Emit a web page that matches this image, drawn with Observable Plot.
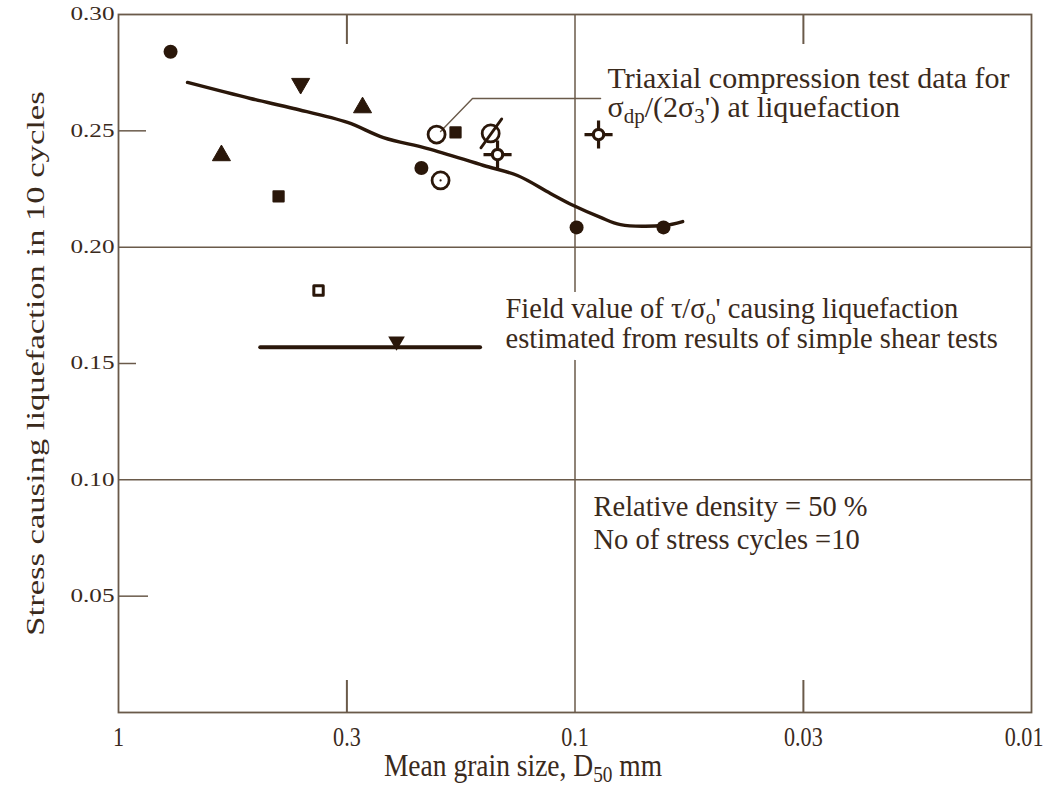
<!DOCTYPE html>
<html>
<head>
<meta charset="utf-8">
<script src="https://cdn.jsdelivr.net/npm/d3@7"></script>
<script src="https://cdn.jsdelivr.net/npm/@observablehq/plot@0.6"></script>
<style>
  html, body { margin: 0; padding: 0; background: #fff; }
</style>
</head>
<body>
<div id="chart"></div>
<script>
// Cyclic stress ratio causing liquefaction in 10 cycles vs mean grain size D50 (mm)
// Each test series: [D50 in mm, stress ratio]
const solidCircles   = [[0.769, 0.284], [0.217, 0.234], [0.0992, 0.2085], [0.064, 0.2085]];
const upTriangles    = [[0.595, 0.2394], [0.292, 0.260]];
const downTriangles  = [[0.399, 0.2703]];
const solidSquares   = [[0.446, 0.2218], [0.1827, 0.2493]];
const openSquares    = [[0.3646, 0.1814]];
const openCircles    = [[0.201, 0.2484]];
const dottedCircles  = [[0.197, 0.2287]];
const slashedCircles = [[0.153, 0.2489]];
const crossCircles   = [[0.1478, 0.2398], [0.0888, 0.2484]];

// Average trend through the triaxial data
const trendD50   = [0.706, 0.514, 0.4136, 0.315, 0.2628, 0.2103, 0.1586, 0.1337, 0.1132, 0.1008, 0.0879, 0.0795, 0.064, 0.0581];
const trendRatio = [0.2708, 0.2639, 0.2596, 0.2536, 0.2471, 0.2424, 0.2351, 0.2308, 0.2231, 0.2179, 0.2128, 0.2097, 0.2093, 0.2110];

// Field value from simple shear tests
const fieldD50Range = [0.488, 0.161];
const fieldRatio = 0.157;
const fieldMarkerD50 = 0.246;

// Axes
const xTickValues = [1, 0.316, 0.1, 0.0316, 0.01];
const xTickLabels = ["1", "0.3", "0.1", "0.03", "0.01"];
const yTickValues = [0.05, 0.10, 0.15, 0.20, 0.25, 0.30];
const yGrid = [0.10, 0.20];
const xGrid = [0.1];
const xMinorTicks = [0.316, 0.0316];
const yMinorTicks = [0.05, 0.15, 0.25];
const xTitle = "Mean grain size, D_{50} mm";
const yTitle = "Stress causing liquefaction in 10 cycles";

// Annotation text
const triaxialNote = ["Triaxial compression test data for", "σ_{dp}/(2σ_{3}') at liquefaction"];
const fieldNote = ["Field value of τ/σ_{o}' causing liquefaction", "estimated from results of simple shear tests"];
const conditionsNote = ["Relative density = 50 %", "No of stress cycles =10"];
const leaderPath = [[0.0879, 0.2639], [0.1677, 0.2639], [0.197, 0.2497]];

const ink = "#2a170a";
const textInk = "#3a2a1c";
const gridInk = "#6a5a4a";
const serif = "'Liberation Serif', 'Times New Roman', serif";

const rows = (pairs) => pairs.map(([d50, ratio]) => ({d50, ratio}));

// Hollow symbols
const slashed = {
  draw(ctx, size) {
    const r = Math.sqrt(size / Math.PI);
    ctx.moveTo(r, 0); ctx.arc(0, 0, r, 0, 2 * Math.PI);
    ctx.moveTo(-1.15 * r, 1.7 * r); ctx.lineTo(1.3 * r, -1.7 * r);
  }
};
const crossed = {
  draw(ctx, size) {
    const r = Math.sqrt(size / Math.PI);
    ctx.moveTo(r, 0); ctx.arc(0, 0, r, 0, 2 * Math.PI);
    const a = 2.7 * r;
    ctx.moveTo(r, 0); ctx.lineTo(a, 0);
    ctx.moveTo(-r, 0); ctx.lineTo(-a, 0);
    ctx.moveTo(0, r); ctx.lineTo(0, a);
    ctx.moveTo(0, -r); ctx.lineTo(0, -a);
  }
};
const triangleDown = {
  draw(ctx, size) {
    const s = Math.sqrt(size * 4 / Math.sqrt(3));
    const h = s * Math.sqrt(3) / 2;
    ctx.moveTo(-s / 2, -h / 3); ctx.lineTo(s / 2, -h / 3); ctx.lineTo(0, 2 * h / 3); ctx.closePath();
  }
};

// Post-process text: subscripts written as _{..} and optional horizontal stretch
const SVGNS = "http://www.w3.org/2000/svg";
function subscripts(el) {
  const leaves = el.querySelectorAll("tspan").length ? [...el.querySelectorAll("tspan")] : [el];
  for (const leaf of leaves) {
    const s = leaf.textContent;
    if (!s.includes("_{")) continue;
    leaf.textContent = "";
    for (const part of s.split(/(_\{[^}]*\})/)) {
      if (!part) continue;
      if (part.startsWith("_{")) {
        const sub = document.createElementNS(SVGNS, "tspan");
        sub.setAttribute("baseline-shift", "-28%");
        sub.setAttribute("font-size", "70%");
        sub.textContent = part.slice(2, -1);
        leaf.appendChild(sub);
      } else {
        leaf.appendChild(document.createTextNode(part));
      }
    }
  }
}
function textStyle(sx = 1) {
  return (index, scales, values, dims, context, next) => {
    const g = next(index, scales, values, dims, context);
    for (const t of g.querySelectorAll("text")) {
      if (sx !== 1) {
        const tr = t.getAttribute("transform") || "";
        t.setAttribute("transform", `${tr} scale(${sx},1)`);
      }
      subscripts(t);
    }
    return g;
  };
}

const W = 1048, H = 793;
const mL = 118, mR = 17, mT = 14, mB = 81;
const frameW = W - mL - mR, frameH = H - mT - mB;
const yTickLen = {0.05: 30, 0.15: 18, 0.25: 28};

const noteRows = (lines, d50, ratios) => lines.map((text, i) => ({text, d50, ratio: ratios[i]}));
const fieldRows = noteRows(fieldNote, 0.1420, [0.1736, 0.1607]);
const xLabelRows = xTickValues.map((v, i) => ({v, label: xTickLabels[i]}));
const lastX = xLabelRows.length - 1;

const chart = Plot.plot({
  width: W,
  height: H,
  marginLeft: mL, marginRight: mR, marginTop: mT, marginBottom: mB,
  x: {type: "log", domain: [1, 0.01], axis: null},
  y: {domain: [0, 0.3], axis: null},
  style: {background: "#fff", fontFamily: serif},
  marks: [
    // grid and frame
    Plot.ruleY(yGrid, {stroke: gridInk, strokeWidth: 1.5}),
    Plot.ruleX(xGrid, {stroke: gridInk, strokeWidth: 1.5}),
    Plot.frame({stroke: gridInk, strokeWidth: 1.8}),
    // inner ticks
    ...yMinorTicks.map((v) => Plot.tickY([v], {y: (d) => d, stroke: gridInk, strokeWidth: 1.5, insetRight: frameW - yTickLen[v]})),
    Plot.tickX(xMinorTicks, {x: (d) => d, stroke: gridInk, strokeWidth: 2, insetBottom: frameH - 30}),
    Plot.tickX(xMinorTicks, {x: (d) => d, stroke: gridInk, strokeWidth: 2, insetTop: frameH - 32}),

    // leader to the triaxial note
    Plot.line(leaderPath, {x: (d) => d[0], y: (d) => d[1], stroke: gridInk, strokeWidth: 1.4}),

    // trend curve
    Plot.line(trendD50.map((d, i) => ({d50: d, ratio: trendRatio[i]})), {
      x: "d50", y: "ratio", curve: "catmull-rom", stroke: ink, strokeWidth: 3.4, strokeLinecap: "round", strokeLinejoin: "round"
    }),

    // field value line and its marker
    Plot.ruleY([fieldRatio], {x1: fieldD50Range[0], x2: fieldD50Range[1], stroke: ink, strokeWidth: 4, strokeLinecap: "round"}),
    Plot.dot([{d50: fieldMarkerD50, ratio: fieldRatio}], {x: "d50", y: "ratio", dy: -6, r: 6.2, symbol: triangleDown, fill: ink}),

    // test data
    Plot.dot(rows(solidCircles), {x: "d50", y: "ratio", r: 7, fill: ink}),
    Plot.dot(rows(upTriangles), {x: "d50", y: "ratio", r: 6.7, symbol: "triangle", fill: ink, stroke: ink, strokeWidth: 1, strokeLinejoin: "round"}),
    Plot.dot(rows(downTriangles), {x: "d50", y: "ratio", r: 6.7, symbol: triangleDown, fill: ink, stroke: ink, strokeWidth: 1, strokeLinejoin: "round"}),
    Plot.dot(rows(solidSquares), {x: "d50", y: "ratio", r: 5.8, symbol: "square", fill: ink, stroke: ink, strokeWidth: 2, strokeLinejoin: "round"}),
    Plot.dot(rows(openSquares), {x: "d50", y: "ratio", r: 5.3, symbol: "square", fill: "#fff", stroke: ink, strokeWidth: 3, strokeLinejoin: "round"}),
    Plot.dot(rows(openCircles), {x: "d50", y: "ratio", r: 8.5, fill: "none", stroke: ink, strokeWidth: 2.8}),
    Plot.dot(rows(dottedCircles), {x: "d50", y: "ratio", r: 8.5, fill: "#fff", stroke: ink, strokeWidth: 2.8}),
    Plot.dot(rows(dottedCircles), {x: "d50", y: "ratio", r: 1.1, fill: ink}),
    Plot.dot(rows(slashedCircles), {x: "d50", y: "ratio", r: 8.5, symbol: slashed, fill: "none", stroke: ink, strokeWidth: 2.8, strokeLinecap: "round"}),
    Plot.dot(rows(crossCircles), {x: "d50", y: "ratio", r: 5.2, symbol: crossed, fill: "#fff", stroke: ink, strokeWidth: 3.2}),

    // notes
    Plot.text(noteRows(triaxialNote, 0.0849, [0.2725, 0.2600]), {
      x: "d50", y: "ratio", text: "text", textAnchor: "start", lineAnchor: "middle",
      fontSize: 30, fill: textInk, render: textStyle(1)
    }),
    // white backing that interrupts the grid line behind the field note
    Plot.text(fieldRows, {
      x: "d50", y: "ratio", text: "text", textAnchor: "start", lineAnchor: "middle",
      fontSize: 28.5, fill: "none", stroke: "#fff", strokeWidth: 24, strokeLinejoin: "round", render: textStyle(1)
    }),
    Plot.text(fieldRows, {
      x: "d50", y: "ratio", text: "text", textAnchor: "start", lineAnchor: "middle",
      fontSize: 28.5, fill: textInk, render: textStyle(1)
    }),
    Plot.text(noteRows(conditionsNote, 0.0911, [0.0885, 0.0744]), {
      x: "d50", y: "ratio", text: "text", textAnchor: "start", lineAnchor: "middle",
      fontSize: 28.5, fill: textInk, render: textStyle(1)
    }),

    // tick labels
    Plot.text(yTickValues, {
      x: 1, y: (d) => d, text: d3.format(".2f"), textAnchor: "end", dx: -4,
      fontSize: 18, fill: textInk, render: textStyle(1.4)
    }),
    Plot.text(xLabelRows.slice(0, lastX), {
      x: "v", y: 0, text: "label", dy: 25,
      fontSize: 27, fill: textInk, render: textStyle(0.82)
    }),
    // the last label sits just inside the right edge
    Plot.text(xLabelRows.slice(lastX), {
      x: "v", y: 0, text: "label", dy: 25, dx: 12, textAnchor: "end",
      fontSize: 27, fill: textInk, render: textStyle(0.82)
    }),

    // axis titles
    Plot.text([xTitle], {frameAnchor: "bottom", textAnchor: "middle", dx: -52, dy: 63, fontSize: 32, fill: textInk, render: textStyle(0.86)}),
    Plot.text([yTitle], {frameAnchor: "left", textAnchor: "middle", dx: -83, rotate: -90, fontSize: 26, fill: textInk, render: textStyle(1.33)})
  ]
});

document.getElementById("chart").appendChild(chart);
</script>
</body>
</html>
